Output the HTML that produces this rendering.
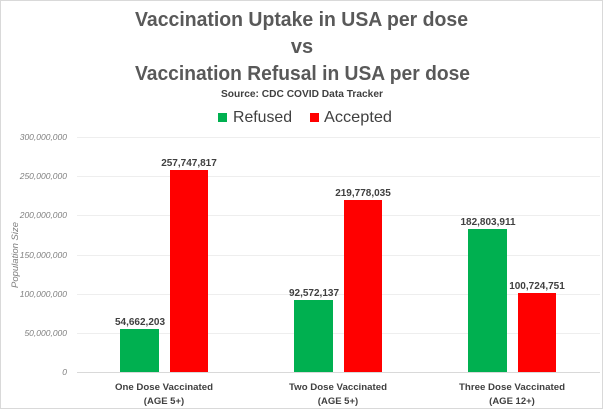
<!DOCTYPE html>
<html><head><style>
body{margin:0;background:#fff;}
svg{display:block;font-family:"Liberation Sans",sans-serif;}
</style></head><body>
<svg width="603" height="415" viewBox="0 0 603 415">
<rect x="0.5" y="0.5" width="602" height="408" fill="#fff" stroke="#d9d9d9"/>
<g fill="#595959" font-weight="bold">
<text x="135" y="26" font-size="20" textLength="333" lengthAdjust="spacingAndGlyphs">Vaccination Uptake in USA per dose</text>
<text x="302" y="53" font-size="20" text-anchor="middle">vs</text>
<text x="135" y="80" font-size="20" textLength="335" lengthAdjust="spacingAndGlyphs">Vaccination Refusal in USA per dose</text>
<text x="221" y="97" font-size="10" fill="#404040" textLength="162" lengthAdjust="spacingAndGlyphs">Source: CDC COVID Data Tracker</text>
</g>
<rect x="218" y="113" width="9" height="9" fill="#00b050"/>
<text x="233" y="122" font-size="16" fill="#404040" textLength="59" lengthAdjust="spacingAndGlyphs">Refused</text>
<rect x="310" y="113" width="9" height="9" fill="#ff0000"/>
<text x="324" y="122" font-size="16" fill="#404040" textLength="68" lengthAdjust="spacingAndGlyphs">Accepted</text>
<g stroke="#eeeeee" stroke-width="1">
<line x1="77" x2="600" y1="137.5" y2="137.5"/>
<line x1="77" x2="600" y1="176.5" y2="176.5"/>
<line x1="77" x2="600" y1="215.5" y2="215.5"/>
<line x1="77" x2="600" y1="255.5" y2="255.5"/>
<line x1="77" x2="600" y1="294.5" y2="294.5"/>
<line x1="77" x2="600" y1="333.5" y2="333.5"/>
</g>
<line x1="77" x2="600" y1="372.5" y2="372.5" stroke="#d9d9d9"/>
<g font-size="8.5" fill="#7f7f7f" font-style="italic" text-anchor="end">
<text x="67" y="140">300,000,000</text>
<text x="67" y="179">250,000,000</text>
<text x="67" y="218">200,000,000</text>
<text x="67" y="258">150,000,000</text>
<text x="67" y="297">100,000,000</text>
<text x="67" y="336">50,000,000</text>
<text x="67" y="375">0</text>
</g>
<text transform="translate(18,255) rotate(-90)" font-size="9.5" fill="#7f7f7f" font-style="italic" text-anchor="middle">Population Size</text>
<rect x="120" y="329" width="39" height="43" fill="#00b050"/>
<rect x="170" y="170" width="38" height="202" fill="#ff0000"/>
<rect x="294" y="300" width="39" height="72" fill="#00b050"/>
<rect x="344" y="200" width="38" height="172" fill="#ff0000"/>
<rect x="468" y="229" width="39" height="143" fill="#00b050"/>
<rect x="518" y="293" width="38" height="79" fill="#ff0000"/>
<g font-size="10" font-weight="bold" fill="#404040" text-anchor="middle">
<text x="140" y="325">54,662,203</text>
<text x="189" y="166">257,747,817</text>
<text x="314" y="296">92,572,137</text>
<text x="363" y="196">219,778,035</text>
<text x="488" y="225">182,803,911</text>
<text x="537" y="289">100,724,751</text>
</g>
<g font-size="9.5" fill="#404040" text-anchor="middle" font-weight="bold">
<text x="164" y="390" textLength="98" lengthAdjust="spacingAndGlyphs">One Dose Vaccinated</text>
<text x="164" y="404">(AGE 5+)</text>
<text x="338" y="390" textLength="98" lengthAdjust="spacingAndGlyphs">Two Dose Vaccinated</text>
<text x="338" y="404">(AGE 5+)</text>
<text x="512" y="390" textLength="106" lengthAdjust="spacingAndGlyphs">Three Dose Vaccinated</text>
<text x="512" y="404">(AGE 12+)</text>
</g>
</svg>
</body></html>
